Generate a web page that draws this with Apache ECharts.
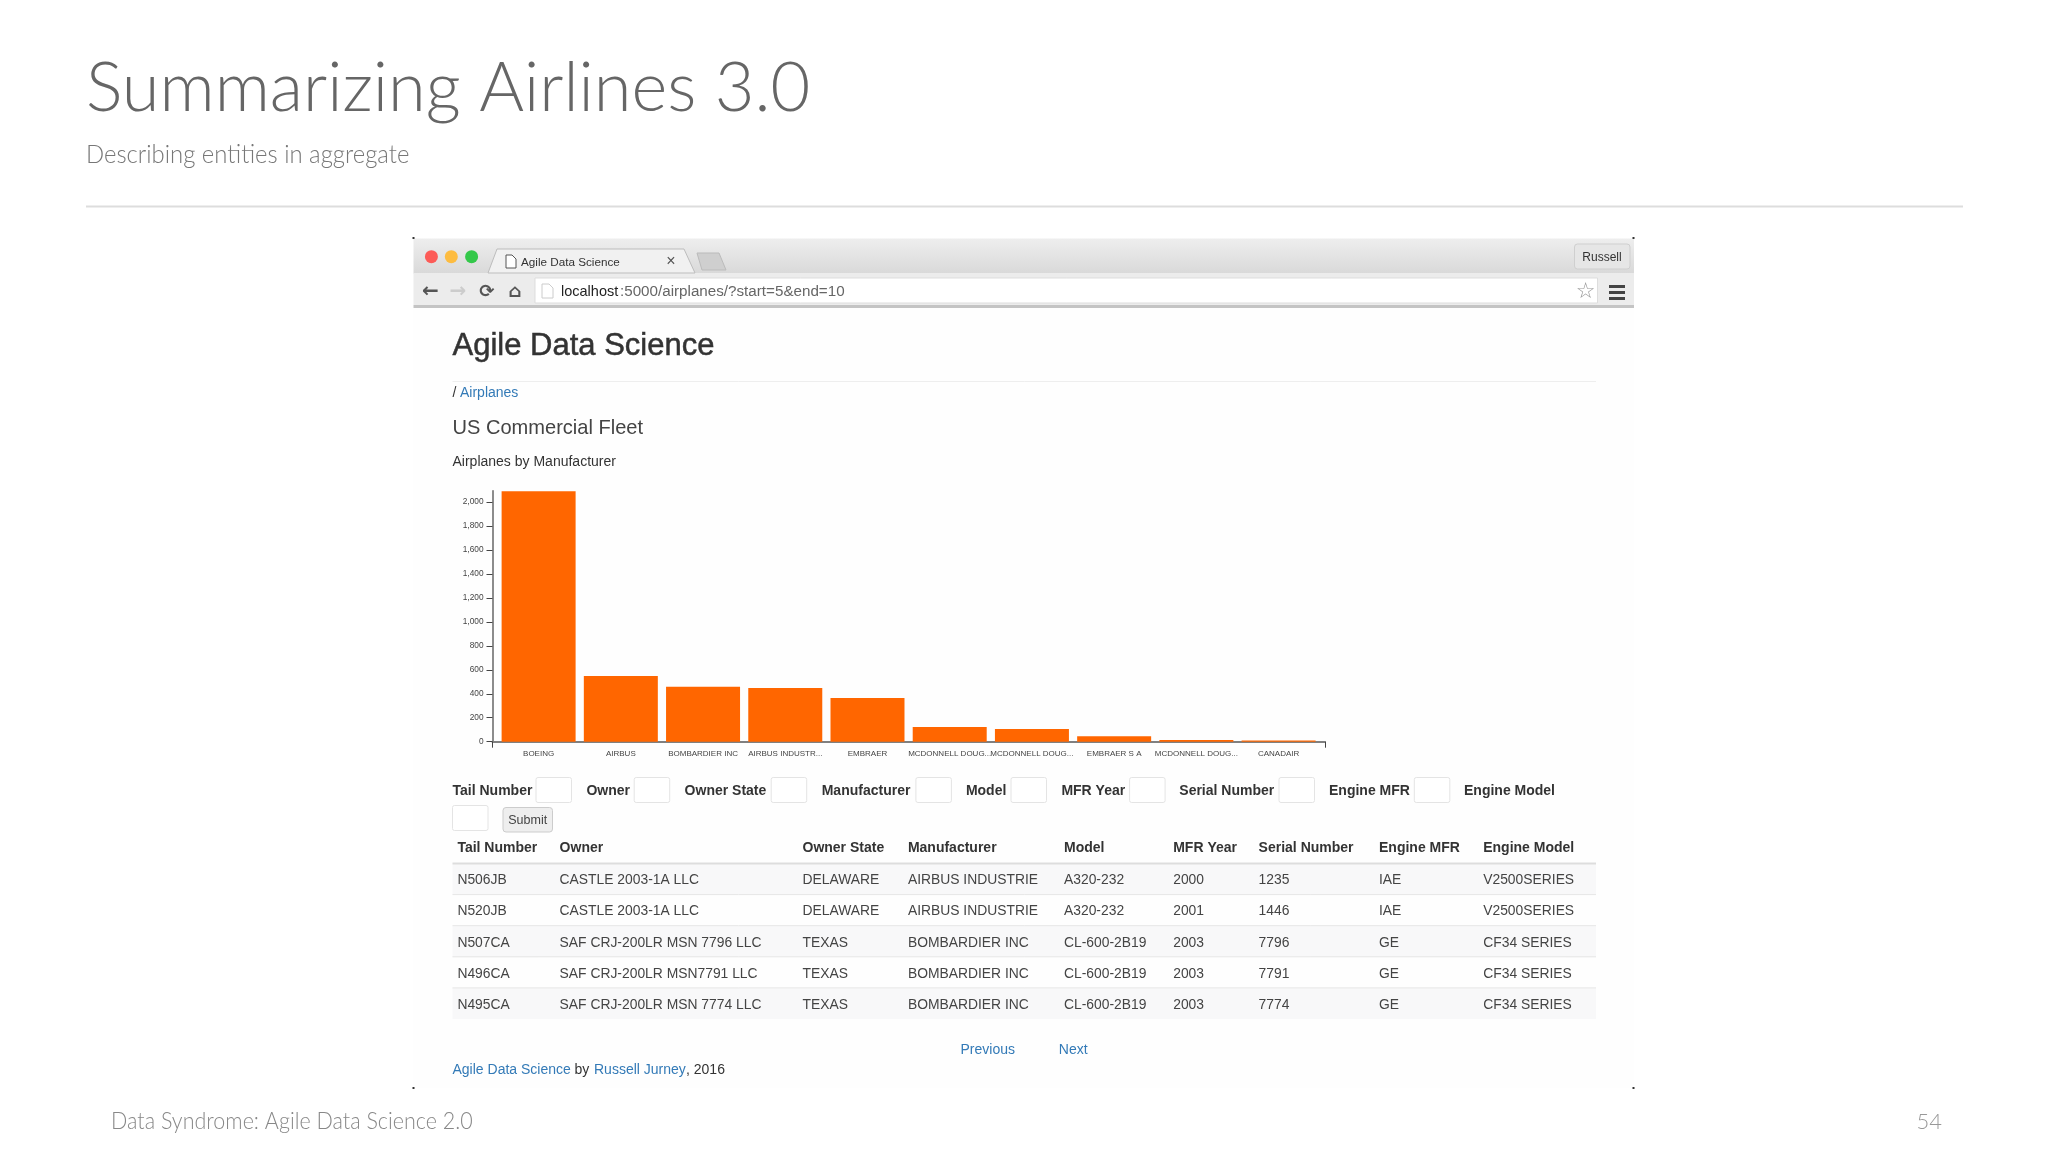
<!DOCTYPE html>
<html style="height: 100%">
<head>
    <meta charset="utf-8">
    <title>Summarizing Airlines 3.0</title>
    <script type="text/javascript" src="https://cdn.jsdelivr.net/npm/echarts@6/dist/echarts.min.js"></script>
</head>
<body style="height: 100%; margin: 0; background: #fff">
<div id="container" style="width: 2048px; height: 1152px"></div>
<script type="text/javascript">
    // chart data
    var manufacturers = ['BOEING', 'AIRBUS', 'BOMBARDIER INC', 'AIRBUS INDUSTR...', 'EMBRAER', 'MCDONNELL DOUG...', 'MCDONNELL DOUG...', 'EMBRAER S A', 'MCDONNELL DOUG...', 'CANADAIR'];
    var totalAirplanes = [2090, 548, 459, 448, 364, 122, 106, 45, 14, 11];

    // table data
    var fieldNames = ['Tail Number', 'Owner', 'Owner State', 'Manufacturer', 'Model', 'MFR Year', 'Serial Number', 'Engine MFR', 'Engine Model'];
    var row1 = ['N506JB', 'CASTLE 2003-1A LLC', 'DELAWARE', 'AIRBUS INDUSTRIE', 'A320-232', '2000', '1235', 'IAE', 'V2500SERIES'];
    var row2 = ['N520JB', 'CASTLE 2003-1A LLC', 'DELAWARE', 'AIRBUS INDUSTRIE', 'A320-232', '2001', '1446', 'IAE', 'V2500SERIES'];
    var row3 = ['N507CA', 'SAF CRJ-200LR MSN 7796 LLC', 'TEXAS', 'BOMBARDIER INC', 'CL-600-2B19', '2003', '7796', 'GE', 'CF34 SERIES'];
    var row4 = ['N496CA', 'SAF CRJ-200LR MSN7791 LLC', 'TEXAS', 'BOMBARDIER INC', 'CL-600-2B19', '2003', '7791', 'GE', 'CF34 SERIES'];
    var row5 = ['N495CA', 'SAF CRJ-200LR MSN 7774 LLC', 'TEXAS', 'BOMBARDIER INC', 'CL-600-2B19', '2003', '7774', 'GE', 'CF34 SERIES'];
    var tableRows = [row1, row2, row3, row4, row5];

    // layout
    var formLabelX = [452.5, 586.4, 684.6, 821.7, 965.9, 1061.4, 1179.3, 1329, 1464];
    var formBoxX = [536, 634.2, 771.2, 915.9, 1011, 1129.6, 1279, 1414.3];
    var columnX = [457.4, 559.6, 802.5, 907.9, 1064, 1173.2, 1258.6, 1379, 1483.2];
    var slideFont = '"Source Sans Pro", Lato, "Noto Sans", sans-serif';
    var pageFont = '"Liberation Sans", Arial, sans-serif';
    var linkBlue = '#337ab7';

    var items = [];

    function text(x, y, str, size, color, opts) {
        opts = opts || {};
        items.push({
            type: 'text', z: -1,
            x: x, y: y,
            scaleX: opts.sx || 1,
            style: {
                x: 0, y: 0, text: str,
                fontFamily: opts.family || pageFont,
                fontSize: size,
                fontWeight: opts.weight || 'normal',
                fill: color,
                stroke: opts.stroke || null,
                lineWidth: opts.stroke ? 0.5 : 0,
                align: opts.align || 'left',
                verticalAlign: 'middle'
            }
        });
    }

    function rect(x, y, w, h, fill, stroke, r) {
        items.push({
            type: 'rect', z: -1,
            shape: {x: x, y: y, width: w, height: h, r: r || 0},
            style: {fill: fill, stroke: stroke || null, lineWidth: stroke ? 1 : 0}
        });
    }

    function line(x1, y1, x2, y2, color, width) {
        items.push({
            type: 'line', z: -1,
            shape: {x1: x1, y1: y1, x2: x2, y2: y2},
            style: {stroke: color, lineWidth: width}
        });
    }

    function docIcon(x, y, w, h, stroke) {
        items.push({
            type: 'polygon', z: -1,
            shape: {points: [[x, y], [x + w - 4, y], [x + w, y + 4], [x + w, y + h], [x, y + h]]},
            style: {fill: '#fff', stroke: stroke, lineWidth: 1}
        });
    }

    // slide frame
    text(86, 89, 'Summarizing Airlines 3.0', 68.5, '#666', {family: slideFont, weight: 300});
    text(86, 155, 'Describing entities in aggregate', 25, '#777', {family: slideFont, weight: 300, sx: 0.955});
    line(86, 206.5, 1963, 206.5, '#ddd', 2);
    text(111, 1122, 'Data Syndrome: Agile Data Science 2.0', 23, '#888', {family: slideFont, weight: 300, sx: 0.935});
    text(1942, 1122, '54', 22, '#999', {family: slideFont, weight: 300, align: 'right'});

    // browser window
    rect(413.5, 308, 1220.5, 780, '#fefefe');
    items.push({
        type: 'rect', z: -1,
        shape: {x: 413.5, y: 238.5, width: 1220.5, height: 35},
        style: {fill: new echarts.graphic.LinearGradient(0, 0, 0, 1, [
            {offset: 0, color: '#eeeeee'}, {offset: 1, color: '#d9d9d9'}
        ])}
    });
    rect(413.5, 273, 1220.5, 32, '#ececec');
    rect(413.5, 305, 1220.5, 3, '#c4c4c4');
    [[431.4, '#fc5b57'], [451.3, '#fdbc40'], [471.6, '#34c84a']].forEach(function (d) {
        items.push({type: 'circle', z: -1, shape: {cx: d[0], cy: 256.7, r: 6.5}, style: {fill: d[1]}});
    });
    items.push({
        type: 'polygon', z: -1,
        shape: {points: [[488, 273], [497, 249], [684, 249], [695, 273]]},
        style: {fill: '#f1f1f1', stroke: '#bdbdbd', lineWidth: 1}
    });
    items.push({
        type: 'polygon', z: -1,
        shape: {points: [[697, 253], [719, 253], [726, 270], [702, 270]]},
        style: {fill: '#cfcfcf', stroke: '#bbb', lineWidth: 1}
    });
    docIcon(506, 255, 10, 13, '#555');
    text(521, 263, 'Agile Data Science', 11.7, '#333');
    text(671, 262, '×', 16, '#555', {align: 'center'});
    text(430.5, 292, '←', 20, '#555', {family: 'DejaVu Sans', align: 'center', weight: 'bold'});
    text(458, 292, '→', 20, '#ccc', {family: 'DejaVu Sans', align: 'center', weight: 'bold'});
    text(487, 292, '⟳', 18, '#555', {family: 'DejaVu Sans', align: 'center', weight: 'bold'});
    text(515, 292, '⌂', 18, '#555', {family: 'DejaVu Sans', align: 'center', weight: 'bold'});
    rect(535, 278, 1062.5, 25, '#fff', '#ddd');
    docIcon(542, 284, 11, 14, '#ccc');
    text(561, 292, 'localhost', 14.5, '#222');
    text(620, 292, ':5000/airplanes/?start=5&end=10', 15.2, '#666');
    text(1585.5, 292, '☆', 22, '#999', {family: 'DejaVu Sans', align: 'center'});
    rect(1609, 285, 16, 3, '#444');
    rect(1609, 291, 16, 3, '#444');
    rect(1609, 297, 16, 3, '#444');
    rect(1574.5, 244, 55.5, 25, '#e6e6e6', '#cfcfcf', 3);
    text(1602, 258, 'Russell', 12, '#333', {align: 'center'});
    [[413.5, 238], [1633.5, 238], [413.5, 1088], [1633.5, 1088]].forEach(function (d) {
        rect(d[0] - 1, d[1] - 1, 2, 2, '#333');
    });

    // page heading
    text(452.5, 346.5, 'Agile Data Science', 31, '#333', {stroke: '#333'});
    line(452.5, 381.5, 1596, 381.5, '#eee', 1);
    text(452.5, 393, '/', 14, '#333');
    text(460, 393, 'Airplanes', 14, linkBlue);
    text(452.5, 428, 'US Commercial Fleet', 21, '#444', {sx: 0.955});
    text(452.5, 462, 'Airplanes by Manufacturer', 14, '#333');

    // search form
    fieldNames.forEach(function (name, i) {
        text(formLabelX[i], 791, name, 14, '#333', {weight: 'bold'});
    });
    formBoxX.forEach(function (x) {
        rect(x, 777.5, 35.5, 25, '#fff', '#e4e4e4', 2);
    });
    rect(452.5, 805.5, 35.5, 25, '#fff', '#e4e4e4', 2);
    rect(503, 807.5, 49.5, 24.5, '#eeeeee', '#cccccc', 3);
    text(527.7, 820.5, 'Submit', 12.5, '#444', {align: 'center'});

    // table
    fieldNames.forEach(function (name, i) {
        text(columnX[i], 848.5, name, 14, '#333', {weight: 'bold'});
    });
    tableRows.forEach(function (row, r) {
        var top = 863.5 + r * 31.1;
        if (r % 2 === 0) {
            rect(452.5, top, 1143.5, 31.1, '#f8f8f9');
        }
        if (r > 0) {
            line(452.5, top, 1596, top, '#e6e6e6', 1);
        }
        row.forEach(function (cell, c) {
            text(columnX[c], top + 17, cell, 14, '#444', {sx: 0.99});
        });
    });
    line(452.5, 863.5, 1596, 863.5, '#ddd', 2);

    // pager and page footer
    text(960.5, 1050, 'Previous', 14, linkBlue);
    text(1058.8, 1050, 'Next', 14, linkBlue);
    text(452.5, 1070.5, 'Agile Data Science', 14, linkBlue);
    text(574.5, 1070.5, 'by', 14, '#333');
    text(594, 1070.5, 'Russell Jurney', 14, linkBlue);
    text(686, 1070.5, ', 2016', 14, '#333');

    var myChart = echarts.init(document.getElementById('container'));

    var option = {
        animation: false,
        backgroundColor: '#fff',
        graphic: {elements: items},
        grid: [
            {left: 497.5, top: 490.7, width: 822.2, height: 251},
            {left: 492.5, top: 490.7, width: 832.5, height: 251}
        ],
        xAxis: [{
            type: 'category',
            gridIndex: 0,
            data: manufacturers,
            axisLine: {show: false},
            axisTick: {alignWithLabel: true, length: 6, lineStyle: {color: '#444'}},
            axisLabel: {interval: 0, margin: 8, hideOverlap: false, color: '#444', fontFamily: pageFont, fontSize: 8}
        }, {
            // d3 style axis line, runs past the outer bars and ends in ticks
            type: 'value',
            gridIndex: 1,
            min: 0,
            max: 1,
            interval: 1,
            axisLine: {show: true, lineStyle: {color: '#808080', width: 2}},
            axisTick: {show: true, length: 6, lineStyle: {color: '#444'}},
            axisLabel: {show: false},
            splitLine: {show: false}
        }],
        yAxis: [{
            type: 'value',
            gridIndex: 0,
            min: 0,
            max: 2095,
            interval: 200,
            offset: 5,
            axisLine: {show: true, lineStyle: {color: '#666', width: 1.5}},
            axisTick: {show: true, length: 6, lineStyle: {color: '#444'}},
            axisLabel: {margin: 9, showMaxLabel: false, color: '#444', fontFamily: pageFont, fontSize: 8.3},
            splitLine: {show: false}
        }, {
            type: 'value',
            gridIndex: 1,
            show: false
        }],
        series: [{
            type: 'bar',
            xAxisIndex: 0,
            yAxisIndex: 0,
            data: totalAirplanes,
            barWidth: 74,
            itemStyle: {color: '#ff6600'}
        }]
    };
    myChart.setOption(option);
</script>
</body>
</html>
